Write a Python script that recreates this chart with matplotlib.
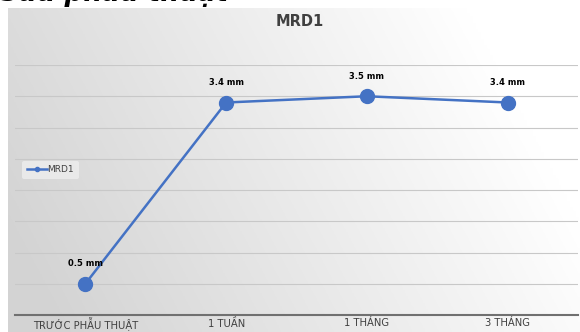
import numpy as np
import matplotlib.pyplot as plt

# data
categories = ["TRƯỚC PHẪU THUẬT", "1 TUẦN", "1 THÁNG", "3 THÁNG"]
mrd1 = [0.5, 3.4, 3.5, 3.4]
labels = ["0.5 mm", "3.4 mm", "3.5 mm", "3.4 mm"]

W, H = 580, 332
fig = plt.figure(figsize=(W / 100, H / 100), dpi=100)
fig.patch.set_facecolor("white")

# gradient background of the slide chart
bg = fig.add_axes([8 / W, 0, 1 - 8 / W, (H - 8) / H])
xx, yy = np.meshgrid(np.linspace(0, 1, 200), np.linspace(0, 1, 100))
shade = 0.83 + 0.17 * np.clip(xx * 1.0 + (1 - yy) * 0.3 - 0.1, 0, 1)
bg.imshow(np.dstack([shade] * 3), aspect="auto", extent=[0, 1, 0, 1])
bg.axis("off")

# cropped slide heading at top (cut off in the reference too)
fig.text(0.0, 1 + 8 / H, "Sau phẫu thuật", fontsize=19, fontweight="bold",
         style="italic", color="black", va="center", ha="left")

# plot area
ax = fig.add_axes([15 / W, (H - 315) / H, 563 / W, 250 / H])
ax.patch.set_alpha(0)
x = np.arange(len(categories))
ax.plot(x, mrd1, color="#4472c4", lw=1.8, marker="o", ms=10, label="MRD1", zorder=3)
for xi, yi, t in zip(x, mrd1, labels):
    ax.annotate(t, (xi, yi), xytext=(0, 11), textcoords="offset points",
                ha="center", va="bottom", fontsize=6, fontweight="bold", color="black")

ax.set_xlim(-0.5, len(categories) - 0.5)
ax.set_ylim(0, 4)
ax.set_yticks(np.arange(0.5, 4.01, 0.5))
ax.grid(axis="y", color="#c8c8c8", lw=0.8)
ax.tick_params(axis="y", left=False, labelleft=False)
ax.tick_params(axis="x", length=0, pad=2, labelsize=7.2, labelcolor="#404040")
ax.set_xticks(x)
ax.set_xticklabels(categories)
for s in ["top", "right", "left"]:
    ax.spines[s].set_visible(False)
ax.spines["bottom"].set_color("#707070")
ax.spines["bottom"].set_linewidth(1.5)

fig.text(300 / W, 1 - 21 / H, "MRD1", fontsize=10.5, fontweight="bold",
         color="#404040", ha="center", va="center")

leg = ax.legend(loc="center left", bbox_to_anchor=(0.005, 0.58), fontsize=6.5,
                frameon=True, handlelength=2.2, markerscale=0.3,
                borderpad=0.5, handletextpad=0.1)
leg.get_frame().set_facecolor("#eeeeee")
leg.get_frame().set_edgecolor("none")
leg.get_frame().set_alpha(0.8)
for t in leg.get_texts():
    t.set_color("#404040")

fig.savefig("out.png", dpi=100)
